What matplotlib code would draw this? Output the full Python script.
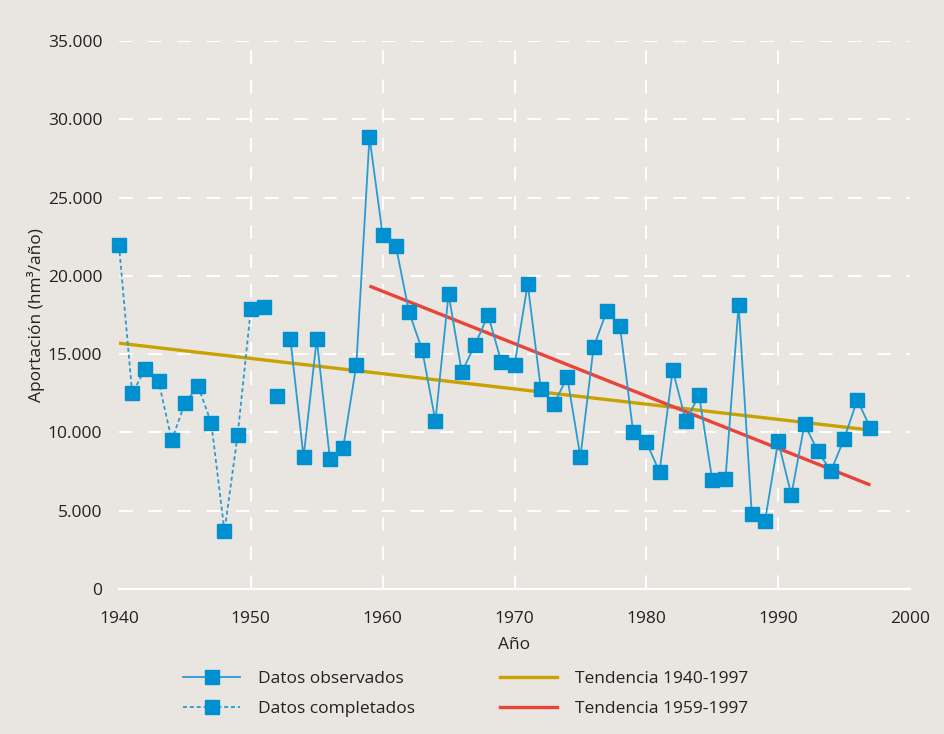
import matplotlib
matplotlib.use("Agg")
import matplotlib.pyplot as plt
from matplotlib.lines import Line2D
from matplotlib.ticker import FuncFormatter
import numpy as np

plt.rcParams['font.family'] = ['Open Sans', 'DejaVu Sans']

# Completed (reconstructed) data, 1940-1950
comp_years = [1940, 1941, 1942, 1943, 1944, 1945, 1946, 1947, 1948, 1949, 1950]
comp_values = [21950, 12500, 14050, 13280, 9500, 11880, 12960, 10600, 3700, 9830, 17880]

# Observed data; 1951 and 1952 are isolated points, continuous record from 1953
iso_years = [1951, 1952]
iso_values = [18000, 12320]
obs_years = list(range(1953, 1998))
obs_values = [15960, 8430, 15960, 8300, 9000, 14300, 28860, 22600, 21900, 17690,
              15260, 10730, 18840, 13860, 15580, 17500, 14500, 14300, 19480, 12770,
              11810, 13540, 8430, 15450, 17750, 16790, 10030, 9390, 7470, 13990,
              10730, 12390, 6960, 7020, 18140, 4790, 4340, 9450, 6000, 10540,
              8810, 7530, 9580, 12070, 10280]

# Trend lines (endpoints)
trend1_years = [1940, 1997]
trend1_values = [15700, 10150]
trend2_years = [1959, 1997]
trend2_values = [19350, 6640]

bg = '#E9E5E0'
blue_m = '#0090CF'
blue_l = '#2A9BD3'
gold = '#C9A100'
red = '#E9433A'
txt = '#222222'

fig = plt.figure(figsize=(9.44, 7.34), dpi=100, facecolor=bg)
ax = fig.add_axes([119/944, 1-589/734, (910-119)/944, (589-41)/734])
ax.set_facecolor(bg)

ax.set_xlim(1940, 2000)
ax.set_ylim(0, 35000)
ax.set_xticks([1940, 1950, 1960, 1970, 1980, 1990, 2000])
ax.set_yticks(np.arange(0, 35001, 5000))
ax.yaxis.set_major_formatter(FuncFormatter(lambda v, p: f"{int(v):,}".replace(",", ".")))

for s in ['left', 'right', 'top']:
    ax.spines[s].set_visible(False)
ax.spines['bottom'].set_color('white')
ax.spines['bottom'].set_linewidth(1.6)
ax.tick_params(length=0, labelsize=12.5, colors=txt)
ax.tick_params(axis='x', pad=16)
ax.tick_params(axis='y', pad=12)

# gridlines
for yv in np.arange(5000, 35001, 5000):
    ax.axhline(yv, color='white', lw=1.4, ls=(0, (7, 8)), zorder=1)
for xv in [1950, 1960, 1970, 1980, 1990]:
    ax.axvline(xv, color='white', lw=1.4, ls=(0, (7, 8)), zorder=1)

ax.plot(trend1_years, trend1_values, color=gold, lw=2.4, zorder=2, solid_capstyle='butt')
ax.plot(trend2_years, trend2_values, color=red, lw=2.4, zorder=2, solid_capstyle='butt')

ax.plot(comp_years, comp_values, color=blue_l, lw=1.3, ls=(0, (2.2, 1.6)),
        marker='s', ms=9.5, mfc=blue_m, mec=blue_m, zorder=3, clip_on=False)
ax.plot(iso_years, iso_values, ls='none', marker='s', ms=9.5, mfc=blue_m, mec=blue_m,
        zorder=3, clip_on=False)
ax.plot(obs_years, obs_values, color=blue_l, lw=1.3, marker='s', ms=9.5,
        mfc=blue_m, mec=blue_m, zorder=3, clip_on=False)

ax.set_xlabel('Año', fontsize=12.5, color=txt, labelpad=7)
ax.set_ylabel('Aportación (hm³/año)', fontsize=12.5, color=txt, labelpad=2)

h1 = Line2D([], [], color=blue_l, lw=1.3, marker='s', ms=9.5, mfc=blue_m, mec=blue_m)
h2 = Line2D([], [], color=blue_l, lw=1.3, ls=(0, (2.2, 1.6)), marker='s', ms=9.5, mfc=blue_m, mec=blue_m)
h3 = Line2D([], [], color=gold, lw=2.4)
h4 = Line2D([], [], color=red, lw=2.4)

leg_kw = dict(frameon=False, fontsize=12.5, handlelength=3.3, handletextpad=1.0,
              labelspacing=0.8, borderpad=0, borderaxespad=0, loc='upper left')
leg1 = fig.legend([h1, h2], ['Datos observados', 'Datos completados'],
                  bbox_to_anchor=(183/944, 1-671/734), **leg_kw)
leg2 = fig.legend([h3, h4], ['Tendencia 1940-1997', 'Tendencia 1959-1997'],
                  bbox_to_anchor=(500/944, 1-671/734), **leg_kw)
for leg in (leg1, leg2):
    for t in leg.get_texts():
        t.set_color(txt)

fig.savefig('out.png', dpi=100, facecolor=bg)
